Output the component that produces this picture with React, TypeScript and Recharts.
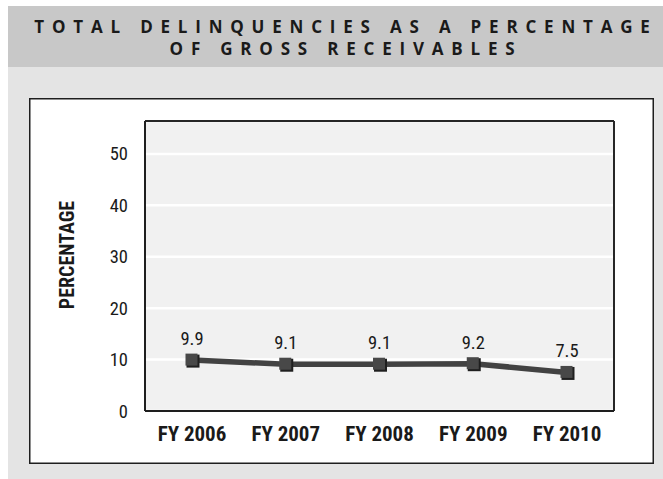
import React from 'react';
import { LineChart, Line, XAxis, YAxis, CartesianGrid, LabelList } from 'recharts';

const years = ['FY 2006', 'FY 2007', 'FY 2008', 'FY 2009', 'FY 2010'];
const delinquencies = [9.9, 9.1, 9.1, 9.2, 7.5];
const yTicks = [0, 10, 20, 30, 40, 50];
const titleLines = ['TOTAL DELINQUENCIES AS A PERCENTAGE', 'OF GROSS RECEIVABLES'];
const yAxisTitle = 'PERCENTAGE';

const data = years.map((year, i) => ({ year, value: delinquencies[i] }));

const NARROW = "'Liberation Sans Narrow', 'Roboto Condensed', 'DejaVu Sans Condensed', 'Liberation Sans', sans-serif";

const SquareDot = (props: any) => {
  const { cx, cy } = props;
  if (cx == null || cy == null) return null;
  return (
    <g>
      <rect x={cx - 5.5} y={cy - 5.5} width={13} height={13} fill="#1f1f1f" />
      <rect x={cx - 6.5} y={cy - 6.5} width={12} height={12} fill="#484848" />
    </g>
  );
};

const YTitle = (props: any) => {
  const vb = props.viewBox || { x: 0, y: 0, width: 0, height: 0 };
  const x = 38;
  const y = vb.y + vb.height / 2 - 11;
  return (
    <text
      x={x}
      y={y}
      transform={`rotate(-90 ${x} ${y})`}
      textAnchor="middle"
      dominantBaseline="central"
      fontFamily={NARROW}
      fontWeight={700}
      fontSize={20}
      fill="#1a1a1a"
    >
      {yAxisTitle}
    </text>
  );
};

const edgeRows = (p: any) => [p.offset.top, p.offset.top + p.offset.height];
const edgeCols = (p: any) => [p.offset.left, p.offset.left + p.offset.width];

export default function App() {
  return (
    <div
      style={{
        position: 'absolute',
        left: 8,
        top: 6,
        width: 655,
        height: 473,
        overflow: 'hidden',
        background: '#e4e4e4',
      }}
    >
      <div
        style={{
          height: 61,
          background: '#c8c8c8',
          boxSizing: 'border-box',
          paddingTop: 10,
          paddingLeft: 21,
          textAlign: 'center',
          fontFamily: "'Open Sans', Lato, sans-serif",
          fontWeight: 700,
          fontSize: 17,
          lineHeight: '22px',
          letterSpacing: '7.8px',
          color: '#1a1a1a',
          whiteSpace: 'nowrap',
        }}
      >
        {titleLines.map((t) => (
          <div key={t}>{t}</div>
        ))}
      </div>
      <div
        style={{
          position: 'absolute',
          left: 21,
          top: 92,
          width: 625,
          height: 366,
          background: '#ffffff',
          boxShadow: 'inset 0 0 0 1.5px #1e1e1e',
        }}
      >
        <LineChart
          width={625}
          height={366}
          data={data}
          margin={{ top: 23, right: 40, bottom: 0, left: 0 }}
        >
          <CartesianGrid vertical={false} stroke="#ffffff" strokeWidth={2.5} fill="#f1f1f1" />
          <CartesianGrid
            stroke="#262626"
            strokeWidth={2}
            horizontalCoordinatesGenerator={edgeRows}
            verticalCoordinatesGenerator={edgeCols}
          />
          <XAxis
            dataKey="year"
            height={53}
            padding={{ left: 47, right: 47 }}
            tickLine={false}
            tickSize={0}
            tickMargin={15}
            axisLine={{ stroke: '#1e1e1e', strokeWidth: 2 }}
            tick={{ fontFamily: NARROW, fontWeight: 700, fontSize: 21, fill: '#1a1a1a' }}
            interval={0}
          />
          <YAxis
            width={116}
            domain={[0, 56.4]}
            ticks={yTicks}
            tickLine={false}
            tickSize={0}
            tickMargin={17}
            axisLine={{ stroke: '#1e1e1e', strokeWidth: 1.5 }}
            tick={{ fontFamily: NARROW, fontSize: 18.5, fill: '#1a1a1a' }}
            label={{ content: YTitle }}
          />
          <Line
            type="linear"
            dataKey="value"
            stroke="#424242"
            strokeWidth={5.5}
            dot={<SquareDot />}
            activeDot={false}
            isAnimationActive={false}
          >
            <LabelList
              dataKey="value"
              position="top"
              offset={15}
              style={{ fontFamily: NARROW, fontSize: 18.5, fill: '#1a1a1a' }}
            />
          </Line>
        </LineChart>
      </div>
    </div>
  );
}
